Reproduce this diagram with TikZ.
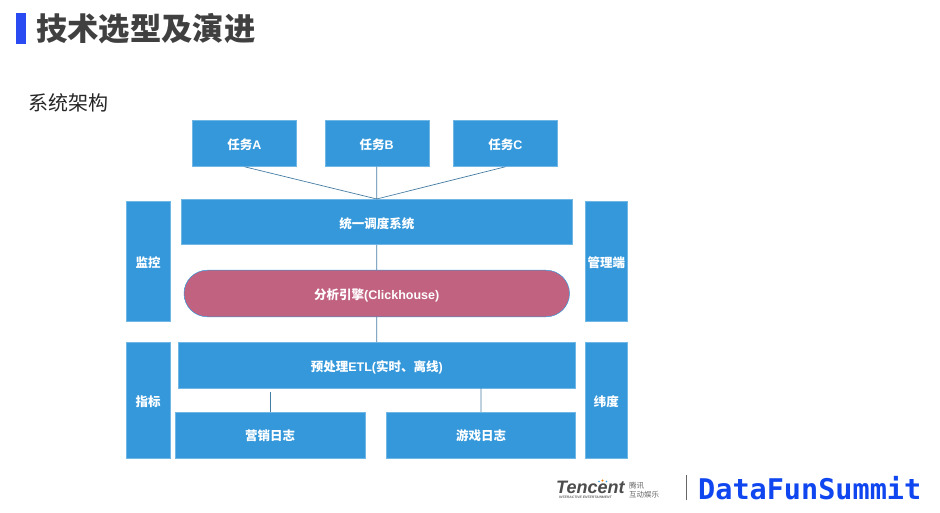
\documentclass[tikz,border=0pt]{standalone}
\usepackage{fontspec}
\setmainfont{Liberation Sans}
\newfontfamily\cjk{Noto Sans CJK SC}
\newfontfamily\dfmono{DejaVu Sans Mono}
\usepackage{tikz}
\definecolor{boxblue}{RGB}{52,152,219}
\definecolor{pillred}{RGB}{192,98,128}
\definecolor{linkblue}{RGB}{70,125,165}
\definecolor{titlegray}{RGB}{64,64,64}
\definecolor{barblue}{RGB}{43,75,242}
\definecolor{dfblue}{RGB}{15,70,240}
\newcommand{\fs}[1]{\fontsize{#1}{#1}\selectfont}
\newcommand{\zh}[1]{{\cjk #1}}
\tikzset{
  box/.style={fill=boxblue,draw=boxblue!70!white,line width=0.5pt,inner sep=0pt,
    text=white,font=\fs{12.5}\bfseries,text height=15pt,text depth=2pt},
  lowbox/.style={box,text height=13.5pt},
  pill/.style={box,rounded rectangle,fill=pillred,draw=boxblue,text height=14pt},
  link/.style={draw=linkblue,line width=0.7pt}
}
\usetikzlibrary{shapes.misc}
\begin{document}
\begin{tikzpicture}[x=1pt,y=-1pt]
  \useasboundingbox (0,0) rectangle (940,513);
  % header
  \node (bar) [fill=barblue,inner sep=0pt,minimum width=10pt,minimum height=31pt] at (20.5,28.5) {};
  \node (title) [anchor=west,inner sep=0pt,text=titlegray,font=\fs{31.3}\bfseries\cjk] at (36,28.5) {技术选型及演进};
  \node (sub) [anchor=west,inner sep=0pt,text=black!85,font=\fs{20}\cjk] at (28,102.5) {系统架构};
  % tasks
  \node (taskA) [lowbox,minimum width=104pt,minimum height=46pt] at (244.5,143.5) {\zh{任务}A};
  \node (taskB) [lowbox,minimum width=104pt,minimum height=46pt] at (376.75,143.5) {\zh{任务}B};
  \node (taskC) [lowbox,minimum width=104pt,minimum height=46pt] at (505.5,143.5) {\zh{任务}C};
  \node (sched) [box,minimum width=391pt,minimum height=45.5pt] at (376.75,222) {\zh{统一调度系统}};
  \node (engine) [pill,minimum width=385.5pt,minimum height=46.5pt] at (376.75,293.5) {\zh{分析引擎}(Clickhouse)};
  \node (etl) [box,minimum width=397pt,minimum height=45.5pt] at (376.75,365) {\zh{预处理}ETL(\zh{实时、离线})};
  \node (logM) [lowbox,minimum width=189.5pt,minimum height=45.5pt] at (270,435) {\zh{营销日志}};
  \node (logG) [lowbox,minimum width=189pt,minimum height=45.5pt] at (481,435) {\zh{游戏日志}};
  % side bars
  \node (mon) [box,minimum width=43.5pt,minimum height=119.5pt] at (148,261) {\zh{监控}};
  \node (admin) [box,minimum width=42pt,minimum height=119.5pt] at (606.25,261) {\zh{管理端}};
  \node (metric) [box,minimum width=43.5pt,minimum height=115.5pt] at (148,400) {\zh{指标}};
  \node (dim) [box,minimum width=42pt,minimum height=115.5pt] at (606.25,400) {\zh{纬度}};
  % links
  \path[link] (taskA.south) -- (sched.north) (taskB.south) -- (sched.north)
    (taskC.south) -- (sched.north) (sched.south) -- (engine.north)
    (engine.south) -- (etl.north) (logG.north) -- (logG.north|-etl.south);
  \path[link,shorten >=4pt] (logM.north) -- (logM.north|-etl.south);
  % logos
  \node (tencent) [anchor=base west,inner sep=0pt,text=black!70,font=\fs{18}\bfseries\itshape] at (556,493) {Tencent};
  \node (tencentsub) [anchor=base west,inner sep=0pt,text=black!60,font=\fs{3.4}\bfseries\itshape] at (559,498.5) {INTERACTIVE ENTERTAINMENT};
  \fill[orange] (602.5,480.5) circle (1.2pt);
  \fill[boxblue] (599,481.5) circle (0.8pt) (606.5,481.5) circle (0.8pt);
  \node (tencentcn) [anchor=west,inner sep=0pt,align=left,text=black!60,font=\fs{7.5}\cjk] at (629,490) {腾讯\\[1pt]互动娱乐};
  \coordinate (sepT) at (686,475);
  \coordinate (sepB) at (686,500);
  \draw[black!60,line width=0.9pt] (sepT) -- (sepB);
  \node (df) [anchor=west,inner sep=0pt,text=dfblue,font=\fs{28.5}\bfseries\dfmono] at (698,488) {DataFunSummit};
\end{tikzpicture}
\end{document}
